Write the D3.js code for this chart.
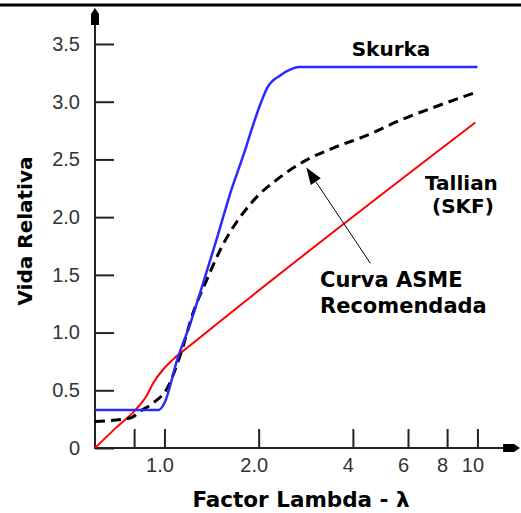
<!DOCTYPE html>
<html>
<head>
<meta charset="utf-8">
<script src="https://cdn.jsdelivr.net/npm/d3@7"></script>
<style>
  body { margin: 0; background: #fff; }
  svg { display: block; }
</style>
</head>
<body>
<svg id="chart" width="521" height="513"></svg>
<script>
// Skurka (blue)
var skurkaLambda = [0.6, 0.96, 1.0, 1.10, 1.21, 1.33, 1.48, 1.62, 1.81, 1.92, 2.06, 2.13, 2.35, 2.53, 2.68, 10];
var skurkaLife   = [0.33, 0.33, 0.39, 0.77, 1.08, 1.43, 1.84, 2.20, 2.58, 2.80, 3.03, 3.12, 3.23, 3.28, 3.30, 3.30];

// Tallian (SKF) (red)
var tallianLambda = [0.6, 0.697, 0.808, 0.88, 0.92, 0.99, 1.068, 1.21, 9.85];
var tallianLife   = [0.0, 0.17, 0.33, 0.46, 0.56, 0.68, 0.77, 0.89, 2.82];

// Curva ASME recomendada (black dashed)
var asmeLambda = [0.6, 0.779, 0.838, 0.92, 1.022, 1.125, 1.238, 1.372, 1.51, 1.62, 1.79, 1.98, 2.30, 2.82, 3.47, 4.45, 5.67, 7.23, 9.85];
var asmeLife   = [0.23, 0.26, 0.32, 0.39, 0.52, 0.81, 1.18, 1.47, 1.72, 1.87, 2.04, 2.18, 2.33, 2.49, 2.60, 2.71, 2.84, 2.95, 3.08];

var xTicks = [0.8, 1, 2, 4, 6, 8, 10];
var xTickLabels = ["", "1.0", "2.0", "4", "6", "8", "10"];
var yTicks = [0, 0.5, 1.0, 1.5, 2.0, 2.5, 3.0, 3.5];
var yTickLabels = ["0", "0.5", "1.0", "1.5", "2.0", "2.5", "3.0", "3.5"];

// arrow from label to ASME curve: [lambda, life] tail -> tip
var noteTail = [4.55, 1.60];
var noteTip = [2.84, 2.43];

var svg = d3.select("#chart");

var x = d3.scaleLog().domain([0.6, 12]).range([95, 95 + 313 * Math.log10(20)]);
var y = d3.scaleLinear().domain([0, 3.5]).range([448, 44]);

var axisColor = "#222";
var boldFont = "'DejaVu Sans', Verdana, sans-serif";
var tickFont = "'Liberation Sans', Arial, sans-serif";

// top border
svg.append("line")
  .attr("x1", 0).attr("x2", 521).attr("y1", 5).attr("y2", 5)
  .attr("stroke", "#000").attr("stroke-width", 3);

// x axis
var xAxis = svg.append("g")
  .attr("transform", "translate(0," + y(0) + ")")
  .call(d3.axisBottom(x).tickValues(xTicks)
    .tickFormat((d, i) => xTickLabels[i])
    .tickSizeInner(-19).tickSizeOuter(0).tickPadding(10));
xAxis.select(".domain").remove();
xAxis.selectAll(".tick line").attr("stroke", axisColor).attr("stroke-width", 2);
xAxis.selectAll(".tick text")
  .attr("font-family", tickFont).attr("font-size", 20).attr("fill", "#333")
  .attr("dx", -5);

// y axis
var yAxis = svg.append("g")
  .attr("transform", "translate(" + x(0.6) + ",0)")
  .call(d3.axisLeft(y).tickValues(yTicks)
    .tickFormat((d, i) => yTickLabels[i])
    .tickSizeInner(-19).tickSizeOuter(0).tickPadding(15));
yAxis.select(".domain").remove();
yAxis.selectAll(".tick line").attr("stroke", axisColor).attr("stroke-width", 2);
yAxis.selectAll(".tick text")
  .attr("font-family", tickFont).attr("font-size", 20).attr("fill", "#333");

// axis lines with arrow heads
var x0 = x(0.6), y0 = y(0);
svg.append("line")
  .attr("x1", x0).attr("x2", x0).attr("y1", y0 + 1).attr("y2", 14)
  .attr("stroke", axisColor).attr("stroke-width", 2);
svg.append("path")
  .attr("d", "M" + x0 + ",8 L" + (x0 + 4) + ",14 L" + (x0 + 4) + ",25 L" + (x0 - 4) + ",25 L" + (x0 - 4) + ",14 Z")
  .attr("fill", "#000");
svg.append("line")
  .attr("x1", x0 - 1).attr("x2", 514).attr("y1", y0).attr("y2", y0)
  .attr("stroke", axisColor).attr("stroke-width", 2);
svg.append("path")
  .attr("d", "M520," + y0 + " L514," + (y0 - 4) + " L503," + (y0 - 4) + " L503," + (y0 + 4) + " L514," + (y0 + 4) + " Z")
  .attr("fill", "#000");

// curves
var line = d3.line()
  .x(d => x(d[0]))
  .y(d => y(d[1]))
  .curve(d3.curveMonotoneX);

function pairs(xs, ys) {
  return xs.map((v, i) => [v, ys[i]]);
}

svg.append("path")
  .datum(pairs(tallianLambda, tallianLife))
  .attr("d", line)
  .attr("fill", "none").attr("stroke", "#ff0000").attr("stroke-width", 2);

svg.append("path")
  .datum(pairs(asmeLambda, asmeLife))
  .attr("d", line)
  .attr("fill", "none").attr("stroke", "#000").attr("stroke-width", 3)
  .attr("stroke-dasharray", "10,6");

svg.append("path")
  .datum(pairs(skurkaLambda, skurkaLife))
  .attr("d", line)
  .attr("fill", "none").attr("stroke", "#2a2aff").attr("stroke-width", 2.5);

// annotation arrow
var tx = x(noteTail[0]), ty = y(noteTail[1]);
var hx = x(noteTip[0]), hy = y(noteTip[1]);
var ang = Math.atan2(hy - ty, hx - tx);
var headLen = 17, headW = 6;
var bx = hx - headLen * Math.cos(ang), by = hy - headLen * Math.sin(ang);
svg.append("line")
  .attr("x1", tx).attr("y1", ty).attr("x2", bx).attr("y2", by)
  .attr("stroke", "#000").attr("stroke-width", 1);
svg.append("path")
  .attr("d", "M" + hx + "," + hy +
    " L" + (bx + headW * Math.sin(ang)) + "," + (by - headW * Math.cos(ang)) +
    " L" + (bx - headW * Math.sin(ang)) + "," + (by + headW * Math.cos(ang)) + " Z")
  .attr("fill", "#000");

// labels
function label(txt, px, py, anchor, size) {
  svg.append("text")
    .attr("x", px).attr("y", py)
    .attr("text-anchor", anchor || "start")
    .attr("font-family", boldFont).attr("font-weight", "bold")
    .attr("font-size", size || 20).attr("fill", "#000")
    .text(txt);
}
label("Skurka", 391, 56, "middle");
label("Tallian", 425, 190);
label("(SKF)", 432, 213);
label("Curva ASME", 320, 287, "start", 21);
label("Recomendada", 320, 313, "start", 21);

label("Factor Lambda - λ", 301, 507, "middle", 21.5);

svg.append("text")
  .attr("transform", "translate(32,231) rotate(-90)")
  .attr("text-anchor", "middle")
  .attr("font-family", boldFont).attr("font-weight", "bold")
  .attr("font-size", 20).attr("fill", "#000")
  .text("Vida Relativa");
</script>
</body>
</html>
